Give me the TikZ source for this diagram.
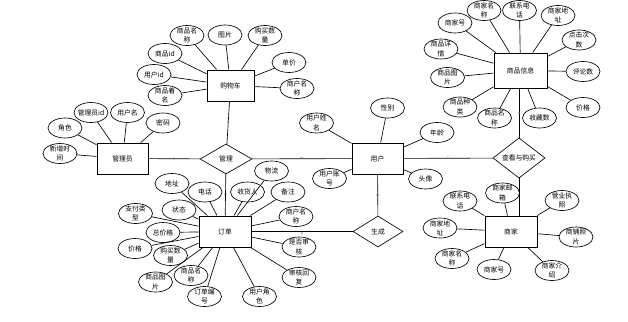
\documentclass[tikz,border=0pt]{standalone}
\usepackage{fontspec}
\newfontfamily\cjk{Noto Sans CJK SC}
\usetikzlibrary{shapes.geometric}
\definecolor{cardc}{RGB}{205,120,40}
\definecolor{cardm}{RGB}{170,90,170}
\begin{document}
\begin{tikzpicture}[x=1pt,y=-1pt,
  font=\cjk\fontsize{6.8}{9.3}\selectfont,
  ent/.style={draw, line width=0.95pt, minimum width=52pt, minimum height=31pt, inner sep=0pt},
  attr/.style={draw, ellipse, line width=0.65pt, minimum width=34pt, minimum height=20pt,
               inner xsep=-2pt, inner ysep=-1.6pt, align=center},
  rel/.style={draw, diamond, line width=0.65pt, minimum width=52pt, minimum height=31pt, inner sep=0pt},
  conn/.style={line width=0.65pt},
  card/.style={font=\sffamily\fontsize{4.5}{4.5}\selectfont, text=cardc, inner sep=0pt}
]
\useasboundingbox[fill=white] (0,0) rectangle (628,321);

% entities
\node[ent, minimum width=47pt] (gwc) at (230.5,85.5) {购物车};
\node[ent, minimum width=51pt] (glr) at (122.5,158.5) {管理员};
\node[ent] (dd) at (225,231.5) {订单};
\node[ent, minimum width=51pt] (yh) at (377.5,158.5) {用户};
\node[ent, minimum width=53pt, minimum height=35pt] (spxx) at (520.5,70.5) {商品信息};
\node[ent] (sj) at (511,231.5) {商家};

% relationships
\node[rel, minimum height=30pt] (gl) at (226,159) {管理};
\node[rel, minimum height=38pt] (ck) at (519,158) {查看与购买};
\node[rel, minimum width=50pt] (sc) at (378,231.5) {生成};

% relationship connectors
\draw[conn] (glr) -- node[card] {1} (gl);
\draw[conn] (gl) -- node[card, text=cardm] {m} (yh);
\draw[conn] (gl) -- node[card] {n} (gwc);
\draw[conn] (gl) -- node[card] {p} (dd);
\draw[conn] (yh) -- node[card] {1} (ck);
\draw[conn] (ck) -- node[card] {n} (ck |- spxx.south);
\draw[conn] (ck) -- (ck |- sj.north);
\draw[conn] (yh) -- node[card, text=cardm] {m} (sc);
\draw[conn] (dd) -- node[card, below=0.5pt] {p} (sc);

% 购物车 attributes
\foreach \n/\x/\y/\t in {
  a1/187/35.5/{商品名\\称}, a2/225/35/{图片}, a3/265/35.5/{购买数\\量},
  a4/289/62.5/{单价}, a5/297/88.5/{商户名\\称}, a6/165/53.5/{商品id},
  a7/154/74.5/{用户id}, a8/165/95.5/{商品着\\名}}
{\node[attr] (\n) at (\x,\y) {\t}; \draw[conn] (\n) -- (gwc);}

% 管理员 attributes
\foreach \n/\x/\y/\t in {
  b1/91/112.5/{管理员id}, b2/127.5/112.5/{用户名}, b3/163/123/{密码},
  b4/65/128/{角色}, b5/60/153.5/{新增时\\间}}
{\node[attr] (\n) at (\x,\y) {\t}; \draw[conn] (\n) -- (glr);}

% 订单 attributes
\foreach \n/\x/\y/\t in {
  c1/172/183.5/{地址}, c2/205/192/{电话}, c3/271.5/171/{物流},
  c4/247.5/192/{收货人}, c5/288/192/{备注}, c6/179/210/{状态},
  c7/135.5/213.5/{支付类\\型}, c8/163/232.5/{总价格}, c9/135/248.5/{价格},
  c10/170.5/255.5/{购买数\\量}, c11/155.5/282/{商品图\\片}, c12/191/275.5/{商品名\\称},
  c13/204.5/296.5/{订单编\\号}, c14/259.5/296.5/{用户角\\色}, c15/296/216.5/{商户名\\称},
  c16/299/247/{是否审\\核}, c17/299/277.5/{审核回\\复}}
{\node[attr] (\n) at (\x,\y) {\t};}
\foreach \n in {c1,c2,c4,c5,c6,c7,c8,c9,c10,c11,c12,c13,c14,c15,c16,c17}
{\draw[conn] (\n) -- (dd);}
\draw[conn] (c3) -- (dd);

% 用户 attributes
\foreach \n/\x/\y/\t in {
  d1/387.5/108/{性别}, d2/316.5/123/{用户姓\\名}, d3/437/132.5/{年龄},
  d4/329.5/178.5/{用户账\\号}, d5/425.5/179/{头像}}
{\node[attr] (\n) at (\x,\y) {\t}; \draw[conn] (\n) -- (yh);}

% 商品信息 attributes
\foreach \n/\x/\y/\t in {
  e1/455/23/{商家号}, e2/484/10.5/{商家名\\称}, e3/519.5/10.5/{联系电\\话},
  e4/558/15.5/{商家地\\址}, e5/579/40/{点击次\\数}, e6/583/71.5/{评论数},
  e7/583/107.5/{价格}, e8/539.5/118/{收藏数}, e9/494.5/118/{商品名\\称},
  e10/460/107/{商品种\\类}, e11/447.5/77.5/{商品图\\片}, e12/441/49/{商品详\\情}}
{\node[attr] (\n) at (\x,\y) {\t}; \draw[conn] (\n) -- (spxx);}

% 商家 attributes
\foreach \n/\x/\y/\t in {
  f1/460/201/{联系电\\话}, f2/502.5/193/{商家邮\\箱}, f3/562/200.5/{营业执\\照},
  f4/440/228/{商家地\\址}, f5/576/237/{商铺照\\片}, f6/452/258.5/{商家名\\称},
  f7/494/269.5/{商家号}, f8/552/270.5/{商家介\\绍}}
{\node[attr] (\n) at (\x,\y) {\t}; \draw[conn] (\n) -- (sj);}
\end{tikzpicture}
\end{document}
